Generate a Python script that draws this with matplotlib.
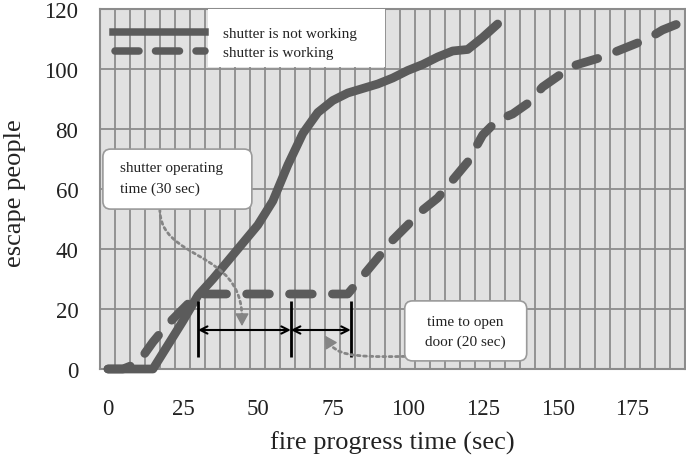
import matplotlib
matplotlib.use('Agg')
import matplotlib.pyplot as plt
import numpy as np
from matplotlib.path import Path
from matplotlib.patches import FancyArrowPatch, FancyBboxPatch, Rectangle
from matplotlib.lines import Line2D

# escape people vs time, shutter not working / working
t_not = [0, 5, 10, 15, 20, 25, 30, 35, 40, 45, 50, 55, 60, 65, 70, 75, 80, 85,
         90, 95, 100, 105, 110, 115, 120, 125, 130]
p_not = [0, 0, 0, 0, 8, 16, 24.5, 30, 36, 42, 48, 56, 68, 78.5, 85.5, 89.5, 92,
         93.5, 95, 97, 99.5, 101.5, 104, 106, 106.5, 110.5, 115]

t_work = list(range(0, 195, 5))
p_work = [0, 0, 2, 9, 15, 20, 25, 25, 25, 25, 25, 25, 25, 25, 25, 25, 25, 31,
          37, 43, 48, 53, 57, 63, 69, 78, 83, 85, 88.5, 94, 97.5, 101, 102.5,
          104, 106, 108, 110, 113, 115]

marker_times = [30, 61, 81]   # shutter closes / door opens / door open
x_ticks = [0, 25, 50, 75, 100, 125, 150, 175]
y_ticks = [0, 20, 40, 60, 80, 100, 120]

LINE = '#5b5b5b'
GRID = '#8c8c8c'
TXT = '#222222'
DOT = '#858585'
plt.rcParams['font.family'] = ['Liberation Serif', 'DejaVu Serif']

fig = plt.figure(figsize=(6.86, 4.56), dpi=100)
ax = fig.add_axes([0.1465, 0.1886, 0.852, 0.7895])
ax.set_facecolor('#e1e1e1')

ax.plot(t_not, p_not, color=LINE, lw=6.3, solid_capstyle='round',
        solid_joinstyle='round', clip_on=False, zorder=4)
ax.plot(t_work, p_work, color=LINE, lw=6.3, linestyle=(0, (2.6, 2.3)),
        dash_capstyle='round', dash_joinstyle='round', clip_on=False, zorder=4)

ax.set_xlim(-2.5, 192.5)
ax.set_ylim(0, 120)
ax.set_xticks(x_ticks)
ax.set_xticks(np.arange(2.5, 190, 5), minor=True)
ax.set_yticks(y_ticks)
ax.grid(which='minor', axis='x', color=GRID, lw=1.3)
ax.grid(which='major', axis='y', color=GRID, lw=1.3)
ax.set_axisbelow(True)
ax.tick_params(which='both', length=0)
ax.tick_params(axis='x', pad=21, labelsize=16.5, labelcolor=TXT)
ax.tick_params(axis='y', pad=16, labelsize=16.5, labelcolor=TXT)
for s in ax.spines.values():
    s.set_color(GRID)
    s.set_linewidth(1.5)

ax.set_xlabel('fire progress time (sec)', fontsize=19, color=TXT)
ax.set_ylabel('escape people', fontsize=19, color=TXT)
ax.xaxis.set_label_coords(0.5, -0.17)
ax.yaxis.set_label_coords(-0.128, 0.49)

# legend (samples sit outside the white box)
ax.add_patch(Rectangle((33.3, 100.7), 59, 19.3, facecolor='white',
                       edgecolor='none', zorder=3))
ax.add_line(Line2D([1.7, 32.3], [112.3, 112.3], color=LINE, lw=5.4, zorder=4))
ax.add_line(Line2D([2.5, 32.3], [106, 106], color=LINE, lw=5.4,
                   linestyle=(0, (3.2, 2.2)), dash_capstyle='round', zorder=4))
ax.text(38.3, 111.7, 'shutter is not working', fontsize=11, color=TXT,
        va='center', zorder=5)
ax.text(38.3, 105.6, 'shutter is working', fontsize=11, color=TXT,
        va='center', zorder=5)

# time markers and double arrows
ax.vlines(marker_times, 4, 22.7, color='black', lw=2, zorder=5)
for a, b in zip(marker_times[:-1], marker_times[1:]):
    ax.annotate('', xy=(a, 13), xytext=(b, 13), zorder=5,
                arrowprops=dict(arrowstyle='<->', color='black', lw=1.5,
                                shrinkA=0, shrinkB=0, mutation_scale=13))

# callout boxes
box_kw = dict(boxstyle='round,pad=0,rounding_size=2.6', facecolor='white',
              edgecolor='#9a9a9a', lw=1.2, zorder=6)
ax.add_patch(FancyBboxPatch((-1.7, 53.3), 49.7, 20, **box_kw))
ax.text(4, 67, 'shutter operating', fontsize=11, color=TXT,
        va='center', zorder=7)
ax.text(4, 60.3, 'time (30 sec)', fontsize=11, color=TXT,
        va='center', zorder=7)
ax.add_patch(FancyBboxPatch((99, 2.7), 40.7, 20, **box_kw))
ax.text(119.3, 15.7, 'time to open', fontsize=11, color=TXT,
        ha='center', va='center', zorder=7)
ax.text(119.3, 9.3, 'door (20 sec)', fontsize=11, color=TXT,
        ha='center', va='center', zorder=7)

# dotted pointer arrows: dotted curve + solid head
head = dict(arrowstyle='-|>,head_length=0.55,head_width=0.3',
            mutation_scale=14, lw=1, color=DOT, shrinkA=0, shrinkB=0)
curve = Path([(17.3, 53.3), (17.3, 36), (44.7, 40), (44.7, 17)],
             [Path.MOVETO, Path.CURVE4, Path.CURVE4, Path.CURVE4])
ax.add_patch(FancyArrowPatch(path=curve, arrowstyle='-', linestyle=(0, (1, 1.3)),
                             lw=2, color=DOT, zorder=5))
ax.add_patch(FancyArrowPatch((44.7, 18), (44.7, 14.3), zorder=5, **head))
curve2 = Path([(99, 4.2), (80, 3.8), (76, 5), (73.6, 9.2)],
              [Path.MOVETO, Path.CURVE4, Path.CURVE4, Path.CURVE4])
ax.add_patch(FancyArrowPatch(path=curve2, arrowstyle='-', linestyle=(0, (1, 1.3)),
                             lw=2, color=DOT, zorder=5))
ax.add_patch(FancyArrowPatch((74.2, 8.2), (72.3, 11.2), zorder=5, **head))

fig.savefig('out.png', dpi=100)
